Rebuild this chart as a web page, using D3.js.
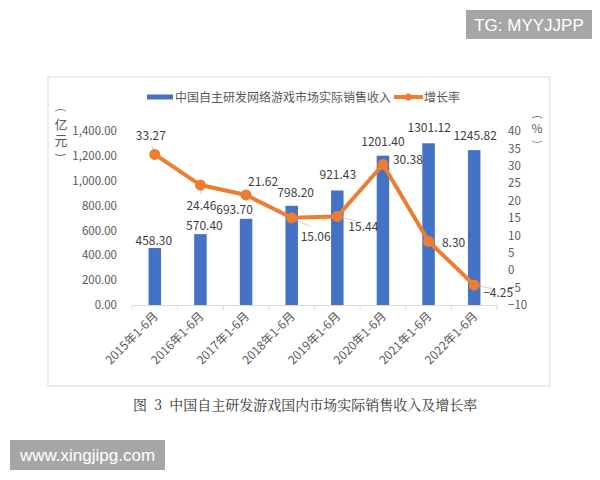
<!DOCTYPE html>
<html><head><meta charset="utf-8">
<script src="https://cdn.jsdelivr.net/npm/d3@7"></script>
<style>
body{margin:0;background:#fff;}
text{font-family:"Noto Sans CJK SC","Noto Sans",sans-serif;}
</style></head>
<body><svg id="c" width="600" height="480"></svg>
<script>
const categories = ["2015年1-6月","2016年1-6月","2017年1-6月","2018年1-6月","2019年1-6月","2020年1-6月","2021年1-6月","2022年1-6月"];
const revenue = [458.30, 570.40, 693.70, 798.20, 921.43, 1201.40, 1301.12, 1245.82];
const growth = [33.27, 24.46, 21.62, 15.06, 15.44, 30.38, 8.30, -4.25];
const leftTicks = [0, 200, 400, 600, 800, 1000, 1200, 1400];
const rightTicks = [-10, -5, 0, 5, 10, 15, 20, 25, 30, 35, 40];
const seriesNames = ["中国自主研发网络游戏市场实际销售收入", "增长率"];
const caption = "图  3  中国自主研发游戏国内市场实际销售收入及增长率";
// label placement offsets (style only)
const gOff = [[-4,-19],[1,20],[17,-13],[24,19],[26,10],[25,-5],[25,1],[24,8]];
const bOff = [[-1,8],[4,9],[-11.5,9],[4,13.5],[0.5,15.5],[0,14],[0.6,16],[1,14.5]];

const svg = d3.select("#c");
const blue = "#4472C4", orange = "#ED7D31", txt = "#595959", lab = "#404040";

// frame
svg.append("rect").attr("x",48).attr("y",77).attr("width",502).attr("height",309)
  .attr("fill","#fff").attr("stroke","#d9d9d9").attr("stroke-width",1);

const x = d3.scaleBand().domain(categories).range([132,497]).padding(0);
const yL = d3.scaleLinear().domain([0,1400]).range([305,131]);
const yR = d3.scaleLinear().domain([-10,40]).range([305,131]);

// left axis
const gl = svg.append("g").attr("transform","translate(123,0)")
  .call(d3.axisLeft(yL).tickValues(leftTicks).tickSize(0).tickPadding(6).tickFormat(d3.format(",.2f")));
gl.select(".domain").remove();
gl.selectAll("text").attr("fill",txt).style("font-size","11.5px").style("font-family","'Noto Sans CJK SC',sans-serif");

// right axis
const gr = svg.append("g").attr("transform","translate(502,0)")
  .call(d3.axisRight(yR).tickValues(rightTicks).tickSize(0).tickPadding(6));
gr.select(".domain").remove();
gr.selectAll("text").attr("fill",txt).style("font-size","11.5px").style("font-family","'Noto Sans CJK SC',sans-serif");

// x axis
const gx = svg.append("g").attr("transform","translate(0,305)")
  .call(d3.axisBottom(x).tickSize(0).tickPadding(0));
gx.select(".domain").attr("stroke","#d9d9d9");
gx.selectAll("text").attr("fill",txt).style("font-size","12px")
  .attr("text-anchor","end").attr("dy","0").attr("y",0)
  .attr("transform","translate(4,12) rotate(-45)");
const bounds = categories.map(c=>x(c)).concat([x.range()[1]]);
svg.append("g").selectAll("line").data(bounds).join("line")
  .attr("x1",d=>d).attr("x2",d=>d).attr("y1",305).attr("y2",310)
  .attr("stroke","#d9d9d9");

// bars
const bw = 12.5;
svg.append("g").selectAll("rect").data(revenue).join("rect")
  .attr("x",(d,i)=>x(categories[i])+x.bandwidth()/2-bw/2)
  .attr("y",d=>yL(d)).attr("width",bw).attr("height",d=>yL(0)-yL(d))
  .attr("fill",blue);
svg.append("g").selectAll("text").data(revenue).join("text")
  .attr("x",(d,i)=>x(categories[i])+x.bandwidth()/2+bOff[i][0])
  .attr("y",(d,i)=>yL(d)-bOff[i][1]+4.5).attr("text-anchor","middle")
  .attr("fill",lab).style("font-size","12px").text(d=>d3.format(".2f")(d));

// line
const cx = (d,i)=>x(categories[i])+x.bandwidth()/2;
// leader lines
svg.append("g").selectAll("line").data(growth).join("line")
  .attr("x1",(d,i)=>cx(d,i)).attr("y1",d=>yR(d))
  .attr("x2",(d,i)=>cx(d,i)+gOff[i][0]*0.75).attr("y2",(d,i)=>yR(d)+gOff[i][1]*0.45)
  .attr("stroke","#bfbfbf").attr("stroke-width",0.8)
  .attr("display",(d,i)=>[0,1,3,4,7].includes(i)?null:"none");
svg.append("path").datum(growth)
  .attr("d",d3.line().x((d,i)=>cx(d,i)).y(d=>yR(d)))
  .attr("fill","none").attr("stroke",orange).attr("stroke-width",4).attr("stroke-linejoin","round");
svg.append("g").selectAll("circle").data(growth).join("circle")
  .attr("cx",(d,i)=>cx(d,i)).attr("cy",d=>yR(d)).attr("r",5.5).attr("fill",orange);
svg.append("g").selectAll("text").data(growth).join("text")
  .attr("x",(d,i)=>cx(d,i)+gOff[i][0]).attr("y",(d,i)=>yR(d)+gOff[i][1]+4.5)
  .attr("text-anchor","middle").attr("fill",lab).style("font-size","12px")
  .text(d=>d3.format(".2f")(d));

// axis titles (vertical, with rotated brackets)
function vTitle(cxp, ys, chars, fs){
  const g = svg.append("g");
  chars.forEach((c,i)=>{
    const t = g.append("text").attr("text-anchor","middle").attr("fill",txt)
      .style("font-size",fs+"px").text(c);
    if(c==="(" || c===")"){
      t.attr("transform",`translate(${cxp},${ys[i]}) rotate(90)`).attr("dy","0.35em")
        .style("font-size",(fs-2)+"px");
    } else {
      t.attr("x",cxp).attr("y",ys[i]).attr("dy","0.35em");
    }
  });
}
vTitle(61, [110,124,140,155], ["(","亿","元",")"], 13);
vTitle(537, [117,129,142], ["(","%",")"], 12);

// legend
svg.append("rect").attr("x",147).attr("y",94.5).attr("width",26).attr("height",5).attr("fill",blue);
svg.append("text").attr("x",175).attr("y",101.5).attr("fill",txt).style("font-size","12px").text(seriesNames[0]);
svg.append("line").attr("x1",394).attr("x2",423).attr("y1",97).attr("y2",97).attr("stroke",orange).attr("stroke-width",4);
svg.append("circle").attr("cx",408.5).attr("cy",97).attr("r",3.5).attr("fill",orange);
svg.append("text").attr("x",424).attr("y",101.5).attr("fill",txt).style("font-size","12px").text(seriesNames[1]);

// caption
svg.append("text").attr("x",133).attr("y",410).attr("fill","#333").style("font-size","14px")
  .style("white-space","pre").attr("xml:space","preserve")
  .style("font-family","'Noto Serif CJK SC','Noto Sans CJK SC',serif").text(caption);

// watermarks
svg.append("rect").attr("x",466).attr("y",10).attr("width",126).attr("height",29).attr("fill","#a6a6a6");
svg.append("text").attr("x",529).attr("y",30.5).attr("text-anchor","middle").attr("fill","#fff")
  .style("font-size","17px").style("font-family","'Liberation Sans',Arial,sans-serif").text("TG: MYYJJPP");
svg.append("rect").attr("x",10).attr("y",440).attr("width",155).attr("height",30).attr("fill","#a6a6a6");
svg.append("text").attr("x",87.5).attr("y",461).attr("text-anchor","middle").attr("fill","#fff")
  .style("font-size","17px").style("font-family","'Liberation Sans',Arial,sans-serif").text("www.xingjipg.com");
</script></body></html>
